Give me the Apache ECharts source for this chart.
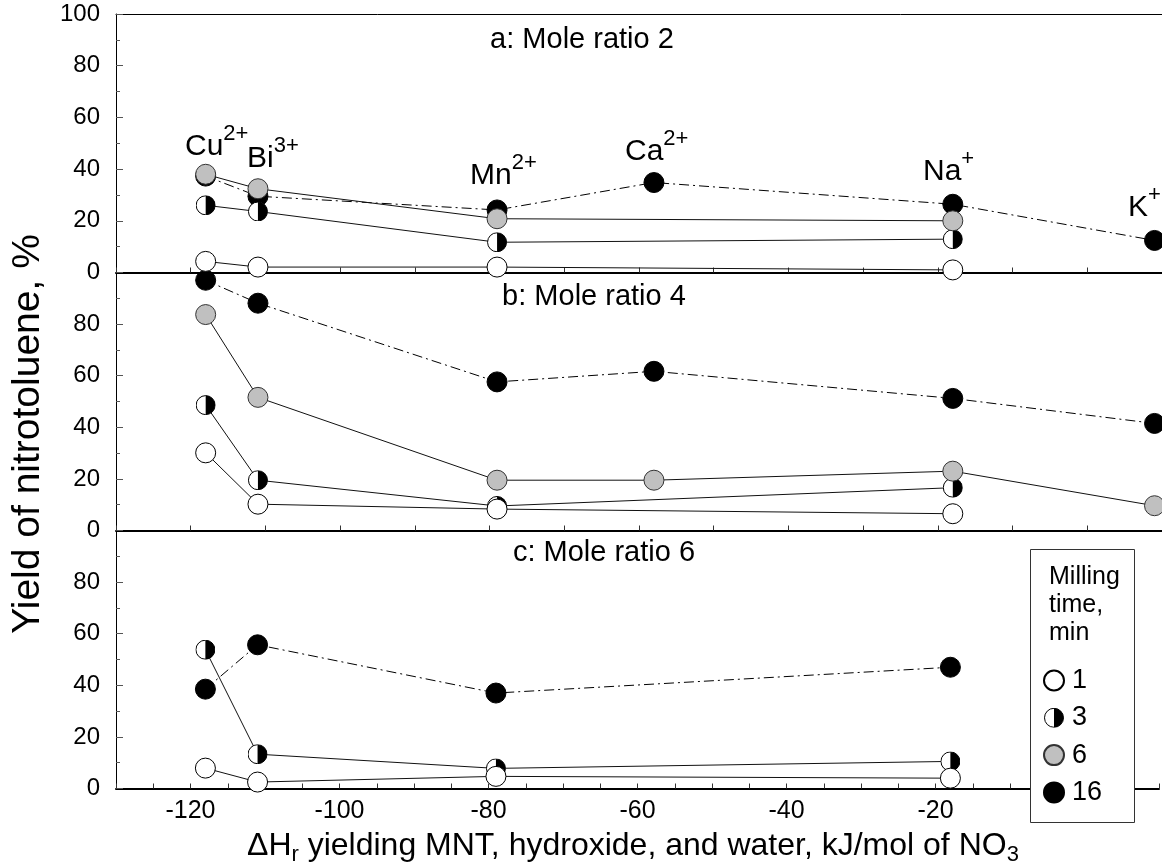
<!DOCTYPE html>
<html>
<head>
<meta charset="utf-8">
<script src="https://cdn.jsdelivr.net/npm/echarts@6/dist/echarts.min.js"></script>
<style>
  html, body { margin: 0; padding: 0; background: #fff; }
  #chart { width: 1162px; height: 867px; }
</style>
</head>
<body>
<div id="chart"></div>
<script>
// Cations and their reaction enthalpy (kJ/mol of NO3)
const cationNames = ['Cu', 'Bi', 'Mn', 'Ca', 'Na', 'K'];
const cationCharges = ['2+', '3+', '2+', '2+', '+', '+'];
const deltaH = [-118, -111, -79, -58, -18, 9];

// Yield of nitrotoluene (%) per milling time, one array per mole ratio
const ratio2_min1  = [4.3, 2.1, 2.1, null, 1.0, null];
const ratio2_min3  = [26.0, 23.6, 11.7, null, 12.9, null];
const ratio2_min6  = [38.0, 32.4, 20.8, null, 20.0, null];
const ratio2_min16 = [37.3, 29.5, 24.2, 34.8, 26.4, 12.4];

const ratio4_min1  = [30.1, 10.2, 8.3, null, 6.5, null];
const ratio4_min3  = [48.6, 19.5, 9.5, null, 16.6, null];
const ratio4_min6  = [83.7, 51.6, 19.5, 19.5, 23.0, 9.6];
const ratio4_min16 = [97.0, 88.1, 57.6, 61.7, 51.2, 41.5];

const ratio6_min1  = [7.9, 2.5, 4.7, null, 4.0, null];
const ratio6_min3  = [53.8, 13.3, 7.8, null, 10.5, null];
const ratio6_min16 = [38.5, 55.7, 37.0, null, 47.0, null];

const panelTitles = ['a: Mole ratio 2', 'b: Mole ratio 4', 'c: Mole ratio 6'];
const millingTimes = ['1', '3', '6', '16'];
const xTickLabels = [-120, -100, -80, -60, -40, -20, 0];

const FONT = "'Liberation Sans', Arial, Helvetica, sans-serif";

// half white / half black marker for the 3 min series
const halfSvg = "<svg xmlns='http://www.w3.org/2000/svg' width='40' height='40' viewBox='0 0 40 40'>" +
  "<circle cx='20' cy='20' r='19' fill='#ffffff'/>" +
  "<path d='M20 1 A19 19 0 0 1 20 39 Z' fill='#000000'/>" +
  "<circle cx='20' cy='20' r='19' fill='none' stroke='#000000' stroke-width='2'/></svg>";
const halfIcon = 'image://data:image/svg+xml;charset=utf-8,' + encodeURIComponent(halfSvg);

const markerStyles = {
  '1':  { symbol: 'circle', itemStyle: { color: '#ffffff', borderColor: '#000', borderWidth: 1, opacity: 1 } },
  '3':  { symbol: halfIcon, itemStyle: { color: '#ffffff', borderColor: '#000', borderWidth: 1, opacity: 1 } },
  '6':  { symbol: 'circle', itemStyle: { color: '#c0c0c0', borderColor: '#333', borderWidth: 1, opacity: 1 } },
  '16': { symbol: 'circle', itemStyle: { color: '#000000', borderColor: '#000', borderWidth: 1, opacity: 1 } }
};

function points(vals) {
  const out = [];
  vals.forEach((v, i) => { if (v !== null) out.push([deltaH[i], v]); });
  return out;
}

// per panel, in drawing order (16 at the back, 6 in front)
const panels = [
  [['16', ratio2_min16], ['3', ratio2_min3], ['1', ratio2_min1], ['6', ratio2_min6]],
  [['16', ratio4_min16], ['3', ratio4_min3], ['1', ratio4_min1], ['6', ratio4_min6]],
  [['16', ratio6_min16], ['3', ratio6_min3], ['1', ratio6_min1]]
];

const series = [];
panels.forEach((panel, k) => {
  panel.forEach(([time, vals]) => {
    series.push({
      type: 'line', name: 'line-' + time + '-' + k,
      xAxisIndex: k, yAxisIndex: k, data: points(vals),
      symbol: 'none', silent: true, z: 2,
      lineStyle: time === '16'
        ? { color: '#000', width: 1, type: [10, 4, 2, 4] }
        : { color: '#111', width: 1, type: 'solid' },
      emphasis: { disabled: true }
    });
  });
  panel.forEach(([time, vals], order) => {
    const st = markerStyles[time];
    series.push({
      type: 'scatter', name: time,
      xAxisIndex: k, yAxisIndex: k, data: points(vals),
      symbol: st.symbol, symbolSize: 20, itemStyle: st.itemStyle,
      clip: false, z: 3 + order,
      emphasis: { disabled: true }
    });
  });
});

const gridLeft = 116, gridWidth = 1047;
const grids = [
  { left: gridLeft, top: 14, width: gridWidth, height: 258.5 },
  { left: gridLeft, top: 272.5, width: gridWidth, height: 258 },
  { left: gridLeft, top: 530.5, width: gridWidth, height: 258 }
];

const xAxes = [0, 1, 2].map(k => ({
  type: 'value', gridIndex: k, min: -130, max: 10,
  interval: k === 2 ? 5 : 10, position: 'bottom',
  axisLine: { show: true, onZero: false, lineStyle: { color: '#000', width: 2 } },
  axisTick: { show: true, inside: true, length: 5, lineStyle: { color: '#333', width: 1 } },
  axisLabel: {
    show: k === 2, fontSize: 25, color: '#000', margin: 10, fontFamily: FONT,
    formatter: v => (xTickLabels.indexOf(v) >= 0 ? String(v) : '')
  },
  splitLine: { show: false }
}));
// frame line across the top of the first panel
xAxes.push({
  type: 'value', gridIndex: 0, min: -130, max: 10, position: 'top',
  axisLine: { show: true, onZero: false, lineStyle: { color: '#000', width: 1 } },
  axisTick: { show: false }, axisLabel: { show: false }, splitLine: { show: false }
});

const yAxes = [0, 1, 2].map(k => ({
  type: 'value', gridIndex: k, min: 0, max: 100, interval: 20,
  axisLine: { show: true, onZero: false, lineStyle: { color: '#000', width: 1 } },
  axisTick: { show: true, inside: true, length: 7, lineStyle: { color: '#555', width: 1 } },
  minorTick: { show: true, splitNumber: 2, length: 4, lineStyle: { color: '#555', width: 1 } },
  axisLabel: {
    fontSize: 24, color: '#000', margin: 16, fontFamily: FONT,
    formatter: v => (k > 0 && v === 100 ? '' : String(v))
  },
  splitLine: { show: false }
}));

const graphics = [];
// panel titles
const titlePos = [[582, 40], [594, 297], [604, 553]];
panelTitles.forEach((t, i) => {
  graphics.push({
    type: 'text', x: titlePos[i][0], y: titlePos[i][1], z: 15,
    style: { text: t, fontSize: 29, fontFamily: FONT, fill: '#000', align: 'center', verticalAlign: 'middle' }
  });
});
// cation labels with superscript charge
const cationLabelPos = [[185, 147], [247, 159], [470, 176], [625, 152], [923, 172], [1128, 208]];
cationNames.forEach((c, i) => {
  graphics.push({
    type: 'text', x: cationLabelPos[i][0], y: cationLabelPos[i][1], z: 15,
    style: {
      text: '{m|' + c + '}{s|' + cationCharges[i] + '}',
      align: 'left', verticalAlign: 'middle', fontFamily: FONT,
      rich: {
        m: { fontSize: 30, lineHeight: 48, fontFamily: FONT, fill: '#000' },
        s: { fontSize: 22, lineHeight: 22, verticalAlign: 'top', fontFamily: FONT, fill: '#000' }
      }
    }
  });
});
// y axis title
graphics.push({
  type: 'text', x: 28, y: 434, rotation: Math.PI / 2, z: 15,
  style: { text: 'Yield of nitrotoluene, %', fontSize: 39, fontFamily: FONT, fill: '#000',
           align: 'center', verticalAlign: 'middle' }
});
// x axis title
graphics.push({
  type: 'text', x: 247, y: 846, z: 15,
  style: {
    text: '{m|ΔH}{s|r}{m| yielding MNT, hydroxide, and water, kJ/mol of NO}{s|3}',
    align: 'left', verticalAlign: 'middle', fontFamily: FONT,
    rich: {
      m: { fontSize: 32, lineHeight: 40, fontFamily: FONT, fill: '#000' },
      s: { fontSize: 22, lineHeight: 20, verticalAlign: 'bottom', fontFamily: FONT, fill: '#000' }
    }
  }
});
// legend frame and heading
graphics.push({
  type: 'rect', z: 30, shape: { x: 1030.5, y: 549.5, width: 104, height: 273 },
  style: { fill: '#fff', stroke: '#333', lineWidth: 1 }
});
['Milling', 'time,', 'min'].forEach((t, i) => {
  graphics.push({
    type: 'text', x: 1049, y: 577 + i * 28, z: 31,
    style: { text: t, fontSize: 25, fontFamily: FONT, fill: '#000', align: 'left', verticalAlign: 'middle' }
  });
});

const chart = echarts.init(document.getElementById('chart'), null, { renderer: 'canvas' });
chart.setOption({
  animation: false,
  backgroundColor: '#fff',
  textStyle: { fontFamily: FONT },
  grid: grids,
  xAxis: xAxes,
  yAxis: yAxes,
  legend: {
    orient: 'vertical', left: 1043, top: 667, padding: 0, z: 40,
    itemWidth: 20, itemHeight: 20, itemGap: 10.3,
    textStyle: { fontSize: 27, color: '#000', fontFamily: FONT, padding: [0, 0, 0, 3] },
    selectedMode: false,
    data: millingTimes.map(t => ({ name: t, icon: markerStyles[t].symbol }))
  },
  graphic: graphics,
  series: series
});
</script>
</body>
</html>
